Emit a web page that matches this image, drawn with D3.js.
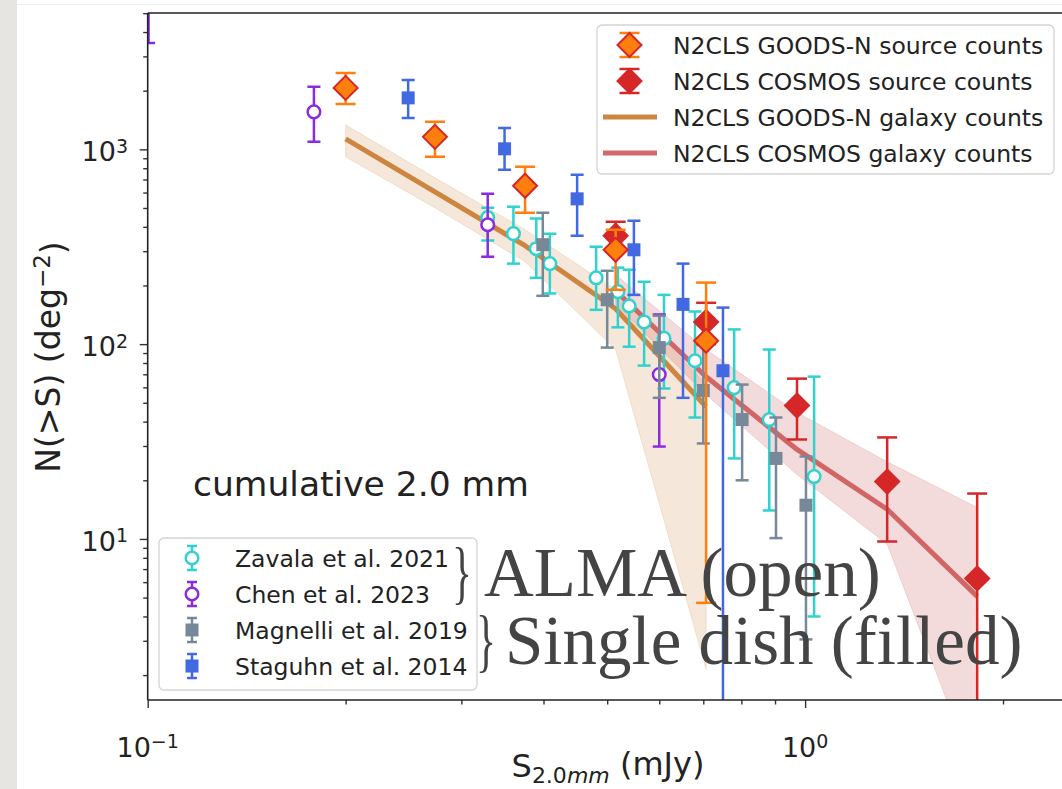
<!DOCTYPE html>
<html><head><meta charset="utf-8">
<script src="https://cdn.jsdelivr.net/npm/d3@7"></script>
<style>body{margin:0;background:#fff;overflow:hidden} svg{display:block}</style>
</head><body>
<svg id="c" width="1062" height="789"></svg>
<script>
// ---------- axis limits & ticks ----------
const xLimits = [0.1, 2.52];
const yLimits = [1.49, 5010];
const xMajorTicks = [0.1, 1];
const xMinorTicks = [0.2, 0.3, 0.4, 0.5, 0.6, 0.7, 0.8, 0.9, 2];
const yMajorTicks = [10, 100, 1000];
const yMinorTicks = [2,3,4,5,6,7,8,9,20,30,40,50,60,70,80,90,200,300,400,500,600,700,800,900,2000,3000,4000,5000];

// ---------- N2CLS source counts ----------
const goodsnS  = [0.20, 0.2735, 0.375, 0.515, 0.707];
const goodsnN  = [2067, 1159, 650, 305, 104];
const goodsnLo = [1711, 915, 472, 190, 4.7];
const goodsnHi = [2466, 1384, 813, 386, 207];

const cosmosS  = [0.515, 0.707, 0.972, 1.333, 1.827];
const cosmosN  = [360, 130, 48.4, 19.7, 6.27];
const cosmosLo = [300, 100, 32.4, 9.7, 0.5];
const cosmosHi = [425, 163, 66.5, 33.2, 17.1];

// ---------- N2CLS galaxy counts (lines + bands) ----------
const goodsnGalS  = [0.20, 0.2735, 0.375, 0.515, 0.707];
const goodsnGalN  = [1132, 605, 320, 152, 47.7];
const goodsnGalHi = [1336, 714, 387, 190, 62];
const goodsnGalLo = [915, 501, 265, 93.8, 2.14];

const cosmosGalS  = [0.515, 0.707, 0.972, 1.333, 1.827];
const cosmosGalN  = [188, 68, 28.8, 14.2, 5.07];
const cosmosGalHi = [227, 93.8, 44.6, 24.9, 14.5];
const cosmosGalLo = [160, 55, 21.4, 9.4, 0.58];

// ---------- literature ----------
const zavalaS  = [0.329, 0.360, 0.390, 0.409, 0.481, 0.519, 0.540, 0.569, 0.610, 0.680, 0.780, 0.882, 1.032];
const zavalaN  = [446, 369, 309, 259, 219, 186, 157, 130, 107, 82.2, 59.8, 41.0, 20.9];
const zavalaLo = [340, 259, 219, 182, 150, 122, 97, 77.6, 59.2, 42, 25.9, 14.0, 4.0];
const zavalaHi = [501, 507, 441, 369, 316, 247, 241, 209, 179, 147, 119, 93.8, 68.1];

const chenS  = [0.1003, 0.179, 0.329, 0.600];
const chenN  = [6000, 1557, 410, 69.8];
const chenLo = [3516, 1093, 281, 29.8];
const chenHi = [9000, 2093, 592, 142];

const magnelliS  = [0.399, 0.500, 0.600, 0.700, 0.802, 0.903, 1.003];
const magnelliN  = [324, 169, 96, 57.8, 41, 25.9, 14.9];
const magnelliLo = [177, 96, 53, 30.9, 20, 10.1, 3.05];
const magnelliHi = [472, 238, 140, 99, 62, 42, 26.5];

const staguhnS  = [0.249, 0.349, 0.450, 0.549, 0.652, 0.750];
const staguhnN  = [1837, 1006, 557, 305, 160, 73];
const staguhnLo = [1450, 785, 360, 179, 53, 0.5];
const staguhnHi = [2270, 1288, 740, 430, 259, 154];

const legend1Labels = ["N2CLS GOODS-N source counts", "N2CLS COSMOS source counts", "N2CLS GOODS-N galaxy counts", "N2CLS COSMOS galaxy counts"];
const legend2Labels = ["Zavala et al. 2021", "Chen et al. 2023", "Magnelli et al. 2019", "Staguhn et al. 2014"];

// ---------- colours ----------
const C = {
  orange: "#ff7f0e", red: "#d62728", peru: "#cd853f", indian: "#cd5c5c",
  zav: "#2fd2cf", chen: "#8a2be2", mag: "#778899", sta: "#4169e1"
};

const svg = d3.select("#c");
const L = 147.7, R = 1069, T = 13, B = 700;
const x = d3.scaleLog().domain(xLimits).range([L, R]);
const y = d3.scaleLog().domain(yLimits).range([B, T]);

// background: slide texture strip + faint line
svg.append("rect").attr("x",0).attr("y",0).attr("width",1062).attr("height",789).attr("fill","#fff");
svg.append("rect").attr("x",0).attr("y",0).attr("width",17).attr("height",789).attr("fill","#e7e5e1");
svg.append("line").attr("x1",17).attr("x2",1062).attr("y1",4.5).attr("y2",4.5).attr("stroke","#ededed").attr("stroke-width",1);

svg.append("clipPath").attr("id","plotclip").append("rect")
  .attr("x",L).attr("y",T).attr("width",R-L).attr("height",B-T);
const P = svg.append("g").attr("clip-path","url(#plotclip)");

// ---------- bands and lines ----------
function band(S, lo, hi, color, op){
  const d = S.map((s,i)=>({s, lo:lo[i], hi:hi[i]}));
  P.append("path").datum(d)
    .attr("d", d3.area().x(v=>x(v.s)).y0(v=>y(v.lo)).y1(v=>y(v.hi)))
    .attr("fill", color).attr("fill-opacity", op)
    .attr("stroke", color).attr("stroke-opacity", op*0.9).attr("stroke-width",1);
}
function line(S, N, color, op){
  const d = S.map((s,i)=>({s, n:N[i]}));
  P.append("path").datum(d)
    .attr("d", d3.line().x(v=>x(v.s)).y(v=>y(v.n)))
    .attr("fill","none").attr("stroke", color).attr("stroke-opacity", op)
    .attr("stroke-width",5).attr("stroke-linejoin","round");
}
band(goodsnGalS, goodsnGalLo, goodsnGalHi, C.peru, 0.2);
band(cosmosGalS, cosmosGalLo, cosmosGalHi, C.indian, 0.22);
line(goodsnGalS, goodsnGalN, C.peru, 1);
line(cosmosGalS, cosmosGalN, C.indian, 0.92);

// ---------- markers ----------
function errbars(g, S, N, lo, hi, color, cap, lw){
  S.forEach((s,i)=>{
    const cx = x(s);
    g.append("line").attr("x1",cx).attr("x2",cx).attr("y1",y(lo[i])).attr("y2",y(hi[i]))
      .attr("stroke",color).attr("stroke-width",lw);
    [lo[i],hi[i]].forEach(v=>{
      g.append("line").attr("x1",cx-cap).attr("x2",cx+cap).attr("y1",y(v)).attr("y2",y(v))
        .attr("stroke",color).attr("stroke-width",lw);
    });
  });
}
function diamond(g, cx, cy, h, fill, stroke){
  g.append("path").attr("d",`M${cx},${cy-h}L${cx+h},${cy}L${cx},${cy+h}L${cx-h},${cy}Z`)
    .attr("fill",fill).attr("stroke",stroke).attr("stroke-width",2);
}
function circle(g, cx, cy, color){
  g.append("circle").attr("cx",cx).attr("cy",cy).attr("r",6.3)
    .attr("fill","#fff").attr("stroke",color).attr("stroke-width",2.5);
}
function square(g, cx, cy, color){
  g.append("rect").attr("x",cx-6.5).attr("y",cy-6.5).attr("width",13).attr("height",13).attr("fill",color);
}

const gZ = P.append("g");
errbars(gZ, zavalaS, zavalaN, zavalaLo, zavalaHi, C.zav, 6.5, 2.5);
zavalaS.forEach((s,i)=>circle(gZ, x(s), y(zavalaN[i]), C.zav));

const gC = P.append("g");
errbars(gC, chenS, chenN, chenLo, chenHi, C.chen, 6.5, 2.5);
chenS.forEach((s,i)=>circle(gC, x(s), y(chenN[i]), C.chen));

const gM = P.append("g");
errbars(gM, magnelliS, magnelliN, magnelliLo, magnelliHi, C.mag, 6.5, 2.5);
magnelliS.forEach((s,i)=>square(gM, x(s), y(magnelliN[i]), C.mag));

const gS = P.append("g");
errbars(gS, staguhnS, staguhnN, staguhnLo, staguhnHi, C.sta, 6.5, 2.5);
staguhnS.forEach((s,i)=>square(gS, x(s), y(staguhnN[i]), C.sta));

const gCo = P.append("g");
errbars(gCo, cosmosS, cosmosN, cosmosLo, cosmosHi, C.red, 10, 2.5);
cosmosS.forEach((s,i)=>diamond(gCo, x(s), y(cosmosN[i]), 12, C.red, C.red));

const gG = P.append("g");
errbars(gG, goodsnS, goodsnN, goodsnLo, goodsnHi, C.orange, 10, 2.5);
goodsnS.forEach((s,i)=>diamond(gG, x(s), y(goodsnN[i]), 12, C.orange, C.red));

// ---------- spines & ticks ----------
const ax = svg.append("g");
function tickAxis(axisFn, scale, vals, size, tr){
  const g = ax.append("g").attr("transform",tr)
    .call(axisFn(scale).tickValues(vals).tickSize(size).tickFormat(""));
  g.select(".domain").remove();
  g.selectAll(".tick line").attr("stroke","#333").attr("stroke-width",1.4);
  return g;
}
tickAxis(d3.axisBottom, x, xMajorTicks, 8, `translate(0,${B})`);
tickAxis(d3.axisBottom, x, xMinorTicks, 4.5, `translate(0,${B})`);
tickAxis(d3.axisLeft, y, yMajorTicks, 8, `translate(${L},0)`);
tickAxis(d3.axisLeft, y, yMinorTicks, 4.5, `translate(${L},0)`);
ax.append("line").attr("x1",L).attr("x2",L).attr("y1",T).attr("y2",B).attr("stroke","#222").attr("stroke-width",1.6);
ax.append("line").attr("x1",L).attr("x2",R).attr("y1",B).attr("y2",B).attr("stroke","#222").attr("stroke-width",1.6);
ax.append("line").attr("x1",L).attr("x2",R).attr("y1",T).attr("y2",T).attr("stroke","#222").attr("stroke-width",1.6);

const FONT = "DejaVu Sans, sans-serif";
function powLabel(px, py, exp, anchor){
  const t = svg.append("text").attr("x",px).attr("y",py).attr("text-anchor",anchor)
    .attr("font-family",FONT).attr("font-size",27).attr("fill","#222");
  t.append("tspan").text("10");
  t.append("tspan").attr("dy","-0.45em").attr("font-size",19).text(exp);
}
xMajorTicks.forEach(v=>powLabel(x(v), 757, String(Math.round(Math.log10(v))).replace("-","\u2212"), "middle"));
yMajorTicks.forEach(v=>powLabel(128, y(v)+12, String(Math.round(Math.log10(v))), "end"));

// axis labels
const yl = svg.append("text").attr("transform","translate(60,357) rotate(-90)")
  .attr("text-anchor","middle").attr("font-family",FONT).attr("font-size",33).attr("fill","#222");
yl.append("tspan").text("N(>S) (deg");
yl.append("tspan").attr("dy","-0.45em").attr("font-size",23).text("\u22122");
yl.append("tspan").attr("dy","0.45em").text(")");

const xl = svg.append("text").attr("x",608).attr("y",777).attr("text-anchor","middle")
  .attr("font-family",FONT).attr("font-size",32).attr("fill","#222");
xl.append("tspan").text("S");
xl.append("tspan").attr("dy","0.25em").attr("font-size",22).text("2.0");
xl.append("tspan").attr("font-size",22).attr("font-style","italic").text("mm");
xl.append("tspan").attr("dy","-0.25em").text(" (mJy)");

svg.append("text").attr("x",193).attr("y",496).attr("font-family",FONT).attr("font-size",34.5)
  .attr("fill","#222").text("cumulative 2.0 mm");

// ---------- legend 1 ----------
const lg1 = svg.append("g");
lg1.append("rect").attr("x",597).attr("y",25).attr("width",457).attr("height",149).attr("rx",5)
  .attr("fill","#fff").attr("fill-opacity",0.85).attr("stroke","#d4d4d4").attr("stroke-width",1.3);
const l1y = [45, 81, 117, 153];
function legErr(g, cx, cy, color, cap){
  g.append("line").attr("x1",cx).attr("x2",cx).attr("y1",cy-12).attr("y2",cy+12).attr("stroke",color).attr("stroke-width",2.5);
  [cy-12, cy+12].forEach(v=>g.append("line").attr("x1",cx-cap).attr("x2",cx+cap).attr("y1",v).attr("y2",v).attr("stroke",color).attr("stroke-width",2.5));
}
legErr(lg1, 629.5, l1y[0], C.orange, 10); diamond(lg1, 629.5, l1y[0], 12, C.orange, C.red);
legErr(lg1, 629.5, l1y[1], C.red, 10); diamond(lg1, 629.5, l1y[1], 12, C.red, C.red);
lg1.append("line").attr("x1",603).attr("x2",657).attr("y1",l1y[2]).attr("y2",l1y[2]).attr("stroke",C.peru).attr("stroke-width",5);
lg1.append("line").attr("x1",603).attr("x2",657).attr("y1",l1y[3]).attr("y2",l1y[3]).attr("stroke",C.indian).attr("stroke-opacity",0.92).attr("stroke-width",5);
legend1Labels.forEach((t,i)=>lg1.append("text").attr("x",673).attr("y",l1y[i]+8.5)
  .attr("font-family",FONT).attr("font-size",23.5).attr("fill","#222").text(t));

// ---------- legend 2 ----------
const lg2 = svg.append("g");
lg2.append("rect").attr("x",159).attr("y",538).attr("width",318).attr("height",152).attr("rx",5)
  .attr("fill","#fff").attr("fill-opacity",0.85).attr("stroke","#d4d4d4").attr("stroke-width",1.3);
const l2y = [558, 594, 630, 666];
legErr(lg2, 192, l2y[0], C.zav, 5); circle(lg2, 192, l2y[0], C.zav);
legErr(lg2, 192, l2y[1], C.chen, 5); circle(lg2, 192, l2y[1], C.chen);
legErr(lg2, 192, l2y[2], C.mag, 5); square(lg2, 192, l2y[2], C.mag);
legErr(lg2, 192, l2y[3], C.sta, 5); square(lg2, 192, l2y[3], C.sta);
legend2Labels.forEach((t,i)=>lg2.append("text").attr("x",235).attr("y",l2y[i]+8.5)
  .attr("font-family",FONT).attr("font-size",23.5).attr("fill","#222").text(t));

// ---------- slide annotations ----------
const SERIF = "Liberation Serif, serif";
const ann = svg.append("g").attr("font-family",SERIF).attr("fill","#444").attr("font-size",69);
ann.append("text").attr("transform","translate(452,596) scale(0.6,1)").text("}");
ann.append("text").attr("x",484).attr("y",596).text("ALMA (open)");
ann.append("text").attr("transform","translate(476,664) scale(0.6,1)").text("}");
ann.append("text").attr("x",505).attr("y",664).text("Single dish (filled)");
</script>
</body></html>
